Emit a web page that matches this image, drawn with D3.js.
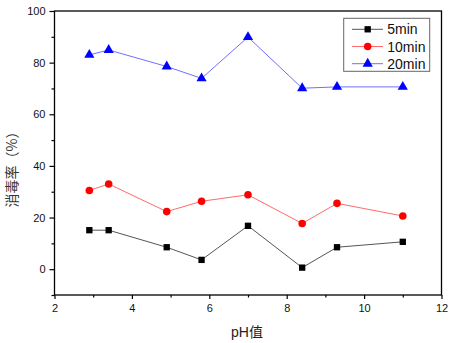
<!DOCTYPE html>
<html><head><meta charset="utf-8">
<script src="https://cdn.jsdelivr.net/npm/d3@7"></script>
<style>body{margin:0;background:#fff}svg{display:block}</style>
</head><body>
<svg id="c" width="450" height="343"></svg>
<script>
const phValues = [2.9, 3.4, 4.9, 5.8, 7.0, 8.4, 9.3, 11.0];
const series5 = [15.1, 15.1, 8.5, 3.6, 16.8, 0.6, 8.5, 10.6];
const series10 = [30.5, 33.0, 22.3, 26.3, 28.8, 17.7, 25.5, 20.6];
const series20 = [83.0, 84.9, 78.5, 73.9, 89.9, 70.1, 70.6, 70.6];
const seriesNames = ["5min", "10min", "20min"];
const xTicks = [2, 4, 6, 8, 10, 12];
const xMinor = [3, 5, 7, 9, 11];
const yTicks = [0, 20, 40, 60, 80, 100];
const yMinor = [-10, 10, 30, 50, 70, 90];

const svg = d3.select("#c");
const L = 54.5, R = 441.5, T = 11, B = 295;
const x = d3.scaleLinear().domain([2, 12]).range([L, R]);
const y = d3.scaleLinear().domain([-10, 100]).range([B, T]);
const font = "Arial, 'Liberation Sans', sans-serif";

// frame
svg.append("rect").attr("x", L).attr("y", T).attr("width", R - L).attr("height", B - T)
  .attr("fill", "none").attr("stroke", "#000").attr("stroke-width", 1.3);

// axes
const xAx = svg.append("g").attr("transform", `translate(0,${B})`)
  .call(d3.axisBottom(x).tickValues(xTicks).tickSize(4).tickPadding(5).tickFormat(d3.format("d")));
const xAxMin = svg.append("g").attr("transform", `translate(0,${B})`)
  .call(d3.axisBottom(x).tickValues(xMinor).tickSize(2.5).tickFormat(""));
const yAx = svg.append("g").attr("transform", `translate(${L},0)`)
  .call(d3.axisLeft(y).tickValues(yTicks).tickSize(5).tickPadding(4).tickFormat(d3.format("d")));
const yAxMin = svg.append("g").attr("transform", `translate(${L},0)`)
  .call(d3.axisLeft(y).tickValues(yMinor).tickSize(3).tickFormat(""));
[xAx, xAxMin, yAx, yAxMin].forEach(g => {
  g.select(".domain").remove();
  g.selectAll("line").attr("stroke", "#000").attr("stroke-width", 1.2);
  g.selectAll("text").attr("font-family", font).attr("font-size", 11).attr("fill", "#111");
});

// titles
svg.append("text").attr("x", 247).attr("y", 337).attr("text-anchor", "middle")
  .attr("font-family", "Arial, 'Noto Sans CJK SC', sans-serif").attr("font-size", 14).attr("fill", "#222")
  .text("pH值");
svg.append("text").attr("transform", "translate(17,166) rotate(-90)").attr("text-anchor", "middle")
  .attr("font-family", "'Noto Sans CJK SC', sans-serif").attr("font-size", 14).attr("fill", "#333")
  .text("消毒率（%）");

const styles = [
  {vals: series5, line: "#555", mark: "#000", shape: d3.symbolSquare, size: 40},
  {vals: series10, line: "#ff6a6a", mark: "#f00", shape: d3.symbolCircle, size: 45},
  {vals: series20, line: "#7070ff", mark: "#00f", shape: d3.symbolTriangle, size: 45}
];
const line = d3.line().x(d => x(d[0])).y(d => y(d[1]));
styles.forEach(s => {
  const pts = phValues.map((p, i) => [p, s.vals[i]]);
  svg.append("path").attr("d", line(pts)).attr("fill", "none").attr("stroke", s.line).attr("stroke-width", 1);
  svg.selectAll(null).data(pts).enter().append("path")
    .attr("d", d3.symbol().type(s.shape).size(s.size))
    .attr("transform", d => `translate(${x(d[0])},${y(d[1])})`)
    .attr("fill", s.mark);
});

// legend
const lg = svg.append("g");
lg.append("rect").attr("x", 343.7).attr("y", 18.3).attr("width", 86).attr("height", 53)
  .attr("fill", "#fff").attr("stroke", "#666").attr("stroke-width", 1);
const ly = [29.3, 46.5, 63.7];
styles.forEach((s, i) => {
  lg.append("line").attr("x1", 352).attr("x2", 383).attr("y1", ly[i]).attr("y2", ly[i])
    .attr("stroke", s.line).attr("stroke-width", 1);
  lg.append("path").attr("d", d3.symbol().type(s.shape).size(s.size)())
    .attr("transform", `translate(367.7,${ly[i]})`).attr("fill", s.mark);
  lg.append("text").attr("x", 387.3).attr("y", ly[i] + 5).attr("font-family", font)
    .attr("font-size", 14).attr("fill", "#111").text(seriesNames[i]);
});
</script>
</body></html>
